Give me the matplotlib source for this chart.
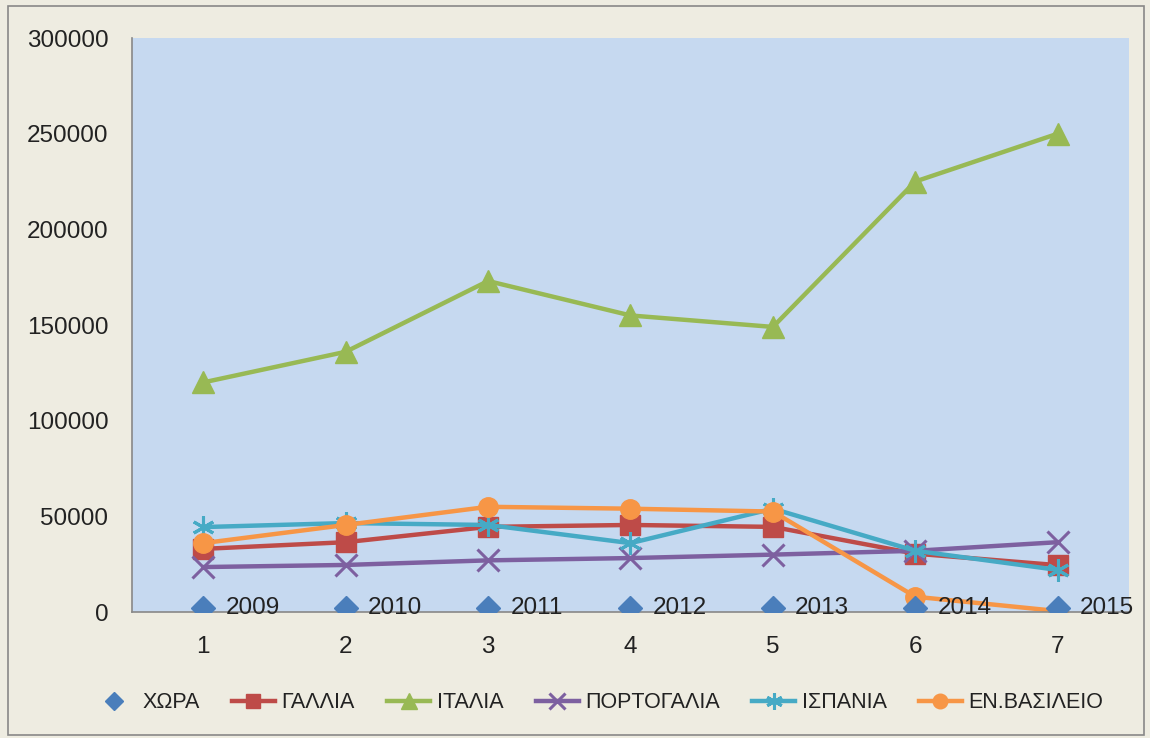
import matplotlib
matplotlib.use("Agg")
import matplotlib.pyplot as plt
from matplotlib.patches import Rectangle

plt.rcParams['font.family'] = ['Liberation Sans', 'DejaVu Sans']

x = [1, 2, 3, 4, 5, 6, 7]
xora = [2009, 2010, 2011, 2012, 2013, 2014, 2015]
gallia = [33000, 36500, 44500, 45500, 44500, 30500, 24500]
italia = [120000, 136000, 173000, 155000, 149000, 225000, 250000]
portogalia = [23500, 24600, 27000, 28200, 30000, 32000, 36500]
ispania = [44400, 46500, 45500, 36000, 54000, 32000, 22000]
enb = [36000, 45500, 55000, 54000, 52500, 8000, 500]
yticks = [0, 50000, 100000, 150000, 200000, 250000, 300000]

fig = plt.figure(figsize=(11.5, 7.38), dpi=100)
fig.patch.set_facecolor('#EEECE1')
fig.patches.append(Rectangle((0.007, 0.004), 0.988, 0.988, transform=fig.transFigure,
                             fill=False, edgecolor='#888888', linewidth=1.2))
ax = fig.add_axes([0.1148, 0.1707, 0.8669, 0.7778])
ax.set_facecolor('#C6D9F0')

ax.plot(x, xora, linestyle='none', marker='D', color='#4A7EBB', markersize=12, label='ΧΩΡΑ', zorder=5)
ax.plot(x, gallia, color='#BE4B48', lw=3.2, marker='s', markersize=14, label='ΓΑΛΛΙΑ')
ax.plot(x, italia, color='#98B954', lw=3.2, marker='^', markersize=16, label='ΙΤΑΛΙΑ')
ax.plot(x, portogalia, color='#7D60A0', lw=3.2, marker='x', markersize=16, markeredgewidth=2.2, label='ΠΟΡΤΟΓΑΛΙΑ')
ax.plot(x, ispania, color='#46AAC5', lw=3.2, marker=(6, 2, 0), markersize=16, markeredgewidth=2.2, label='ΙΣΠΑΝΙΑ')
ax.plot(x, enb, color='#F79646', lw=3.2, marker='o', markersize=14, label='ΕΝ.ΒΑΣΙΛΕΙΟ')

for xi, v in zip(x, xora):
    ax.annotate(str(v), (xi, v), xytext=(16, 0), textcoords='offset points',
                va='center', ha='left', fontsize=17.5, color='#222222', zorder=6)

ax.set_xlim(0.5, 7.5)
ax.set_ylim(0, 300000)
ax.set_xticks(x)
ax.set_yticks(yticks)
ax.tick_params(axis='both', labelsize=17.5, length=0, colors='#222222', pad=17)
for s in ['top', 'right']:
    ax.spines[s].set_visible(False)
for s in ['left', 'bottom']:
    ax.spines[s].set_color('#888888')
    ax.spines[s].set_linewidth(1.2)

leg = fig.legend(loc='center', bbox_to_anchor=(0.52, 0.048), ncol=6, frameon=False,
                 fontsize=15.5, handlelength=2.0, columnspacing=1.5, handletextpad=0.3,
                 markerscale=0.75)
for t in leg.get_texts():
    t.set_color('#222222')

fig.savefig('out.png', dpi=100, facecolor=fig.get_facecolor())
